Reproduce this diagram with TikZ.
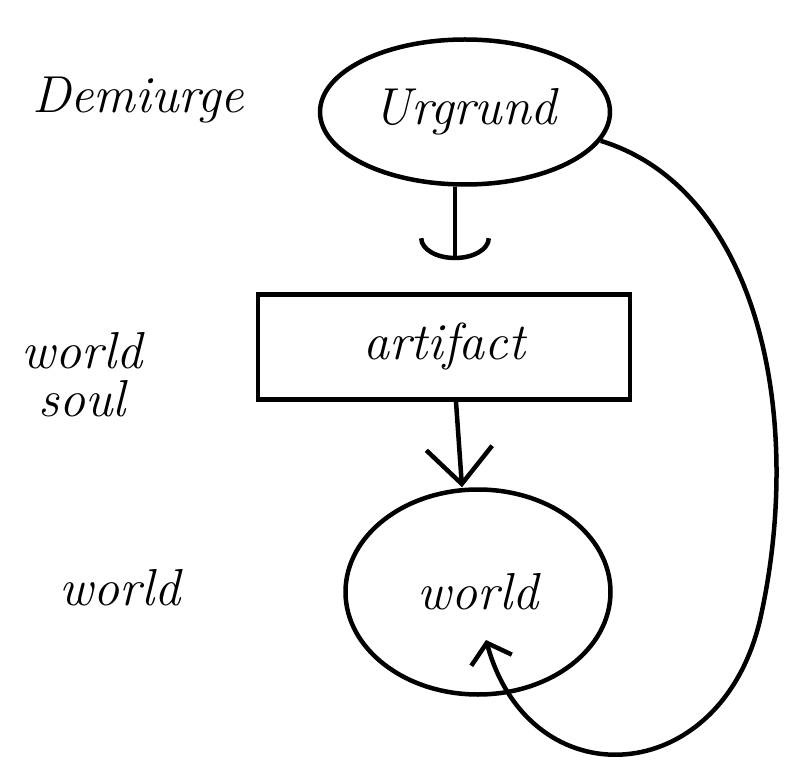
\documentclass[tikz,border=0pt]{standalone}
\usetikzlibrary{shapes.geometric,arrows.meta}
\begin{document}
\begin{tikzpicture}[x=1pt,y=-1pt,
  line width=4.5pt,
  txt/.style={font=\fontsize{52}{56}\selectfont\itshape},
  lbl/.style={txt, align=center},
  elnode/.style={draw, ellipse, line width=4.5pt, inner sep=0pt, txt},
  boxnode/.style={draw, rectangle, line width=4.5pt, inner sep=0pt, txt},
  downarrow/.style={-{Arc Barb[length=22pt,width=72pt,line width=4.5pt]}},
  vtip/.style={-{Straight Barb[length=36pt,width=66pt,line width=4.5pt]}},
  smalltip/.style={-{Straight Barb[length=18pt,width=42pt,line width=4.5pt]}}
]
\useasboundingbox (0,0) rectangle (790,775);
\node[lbl] (dem) at (138,100) {Demiurge};
\node[lbl] (ws) at (82,375) {world\\[-8pt]soul};
\node[lbl] (wl) at (120,588) {world};

\node[elnode, minimum width=290pt, minimum height=145pt] (u) at (465,112) {Urgrund};
\node[boxnode, minimum width=372pt, minimum height=105pt] (a) at (444,347) {artifact};
\node[elnode, minimum width=265pt, minimum height=205pt] (w) at (478,592) {world};

\coordinate (wend) at (486,640);

\draw[downarrow, shorten >=32pt] (u.south -| 455,0) -- (a.north -| 455,0);
\draw[vtip] (a.south -| 456,0) -- (w.north -| 462,0);
\draw[smalltip] (u.-12) .. controls (760,190) and (805,420) .. (760,620)
  .. controls (720,790) and (530,800) .. (wend);
\end{tikzpicture}
\end{document}
